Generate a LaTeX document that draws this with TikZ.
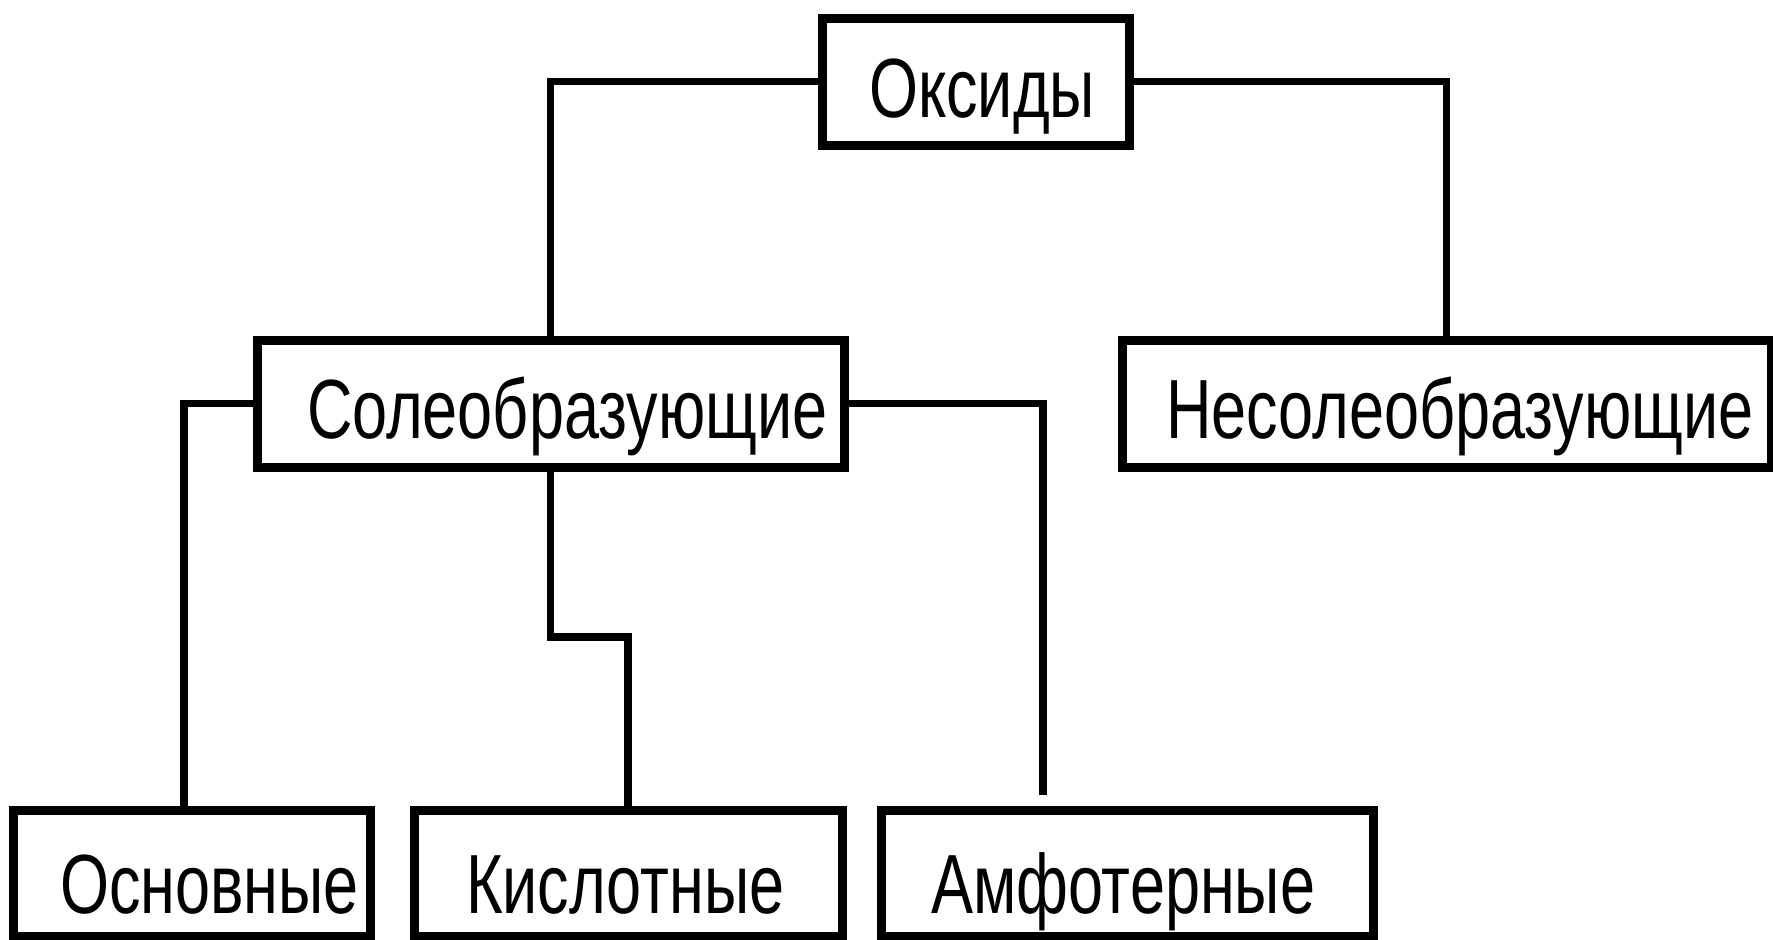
\documentclass[tikz,border=0pt]{standalone}
\usepackage{fontspec}
\setmainfont{Liberation Sans}[FakeStretch=0.75]
\setlength\parindent{0pt}
\begin{document}
\begin{tikzpicture}[x=1pt,y=-1pt,
  box/.style={draw, line width=9pt, inner xsep=0pt, inner ysep=0pt, outer sep=0pt, align=left,
    anchor=north west, font=\fontsize{84}{90}\selectfont},
  conn/.style={line width=7.5pt}]
\useasboundingbox (0,0) rectangle (1773,940);
\fill[white] (0,0) rectangle (1773,940);
\node[box, text width=307pt, text height=99pt, text depth=28pt] (ok) at (822,18) {\hspace*{47pt}Оксиды};
\node[box, text width=587pt, text height=98pt, text depth=29pt] (sol) at (257,340) {\hspace*{50pt}Солеобразующие};
\node[box, text width=649pt, text height=98pt, text depth=29pt] (nesol) at (1122,340) {\hspace*{44pt}Несолеобразующие};
\node[box, text width=357pt, text height=103pt, text depth=23pt] (osn) at (13,810) {\hspace*{47pt}Основные};
\node[box, text width=428pt, text height=103pt, text depth=23pt] (kisl) at (414,810) {\hspace*{52pt}Кислотные};
\node[box, text width=492pt, text height=103pt, text depth=23pt] (amf) at (881,810) {\hspace*{50pt}Амфотерные};
\coordinate (kbend) at (628,637);
\coordinate (amfend) at (1043,795);
\draw[conn] (ok.west) -| (sol.north);
\draw[conn] (ok.east) -| (nesol.north);
\draw[conn] (sol.west) -| ([xshift=-7.5pt]osn.north);
\draw[conn] (sol.south) |- (kbend) -- (kisl.north);
\draw[conn] (sol.east) -| (amfend);
\end{tikzpicture}
\end{document}
